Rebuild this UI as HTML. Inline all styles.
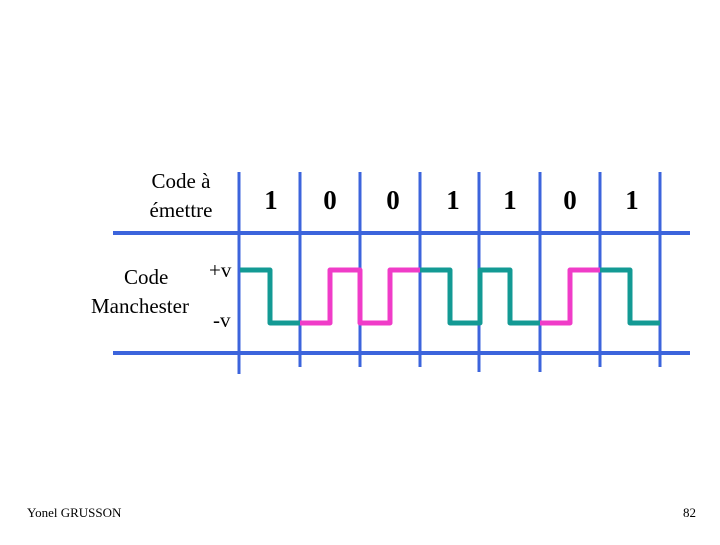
<!DOCTYPE html>
<html><head><style>
body{margin:0;background:#fff}
svg text{font-family:"Liberation Serif",serif;fill:#000}
</style></head><body>
<svg width="720" height="540" xmlns="http://www.w3.org/2000/svg">
<g stroke="#3c64dc" stroke-width="3">
<line x1="239" y1="172" x2="239" y2="374"/>
<line x1="300" y1="172" x2="300" y2="367"/>
<line x1="360" y1="172" x2="360" y2="367"/>
<line x1="420" y1="172" x2="420" y2="367"/>
<line x1="479" y1="172" x2="479" y2="372"/>
<line x1="540" y1="172" x2="540" y2="372"/>
<line x1="600" y1="172" x2="600" y2="367"/>
<line x1="660" y1="172" x2="660" y2="367"/>
</g>
<g stroke="#3c64dc" stroke-width="4">
<line x1="113" y1="233" x2="690" y2="233"/>
<line x1="113" y1="353" x2="690" y2="353"/>
</g>
<g fill="none" stroke-width="5" stroke-linejoin="round">
<polyline stroke="#139a94" points="240,270 270,270 270,323 300,323"/>
<polyline stroke="#f03cc8" points="300,323 330,323 330,270 360,270 360,323 390,323 390,270 420,270"/>
<polyline stroke="#139a94" points="420,270 450,270 450,323 480,323 480,270 510,270 510,323 540,323"/>
<polyline stroke="#f03cc8" points="540,323 570,323 570,270 600,270"/>
<polyline stroke="#139a94" points="600,270 630,270 630,323 660,323"/>
</g>
<g font-size="21" text-anchor="middle">
<text x="181" y="188">Code à</text>
<text x="181" y="217">émettre</text>
</g>
<g font-size="27" font-weight="bold" text-anchor="middle">
<text x="271" y="209">1</text>
<text x="330" y="209">0</text>
<text x="393" y="209">0</text>
<text x="453" y="209">1</text>
<text x="510" y="209">1</text>
<text x="570" y="209">0</text>
<text x="632" y="209">1</text>
</g>
<text x="124" y="284" font-size="21">Code</text>
<text x="91" y="313" font-size="21">Manchester</text>
<text x="209" y="277" font-size="21">+v</text>
<text x="213" y="327" font-size="21">-v</text>
<text x="27" y="517" font-size="13">Yonel GRUSSON</text>
<text x="696" y="517" font-size="13" text-anchor="end">82</text>
</svg>
</body></html>
